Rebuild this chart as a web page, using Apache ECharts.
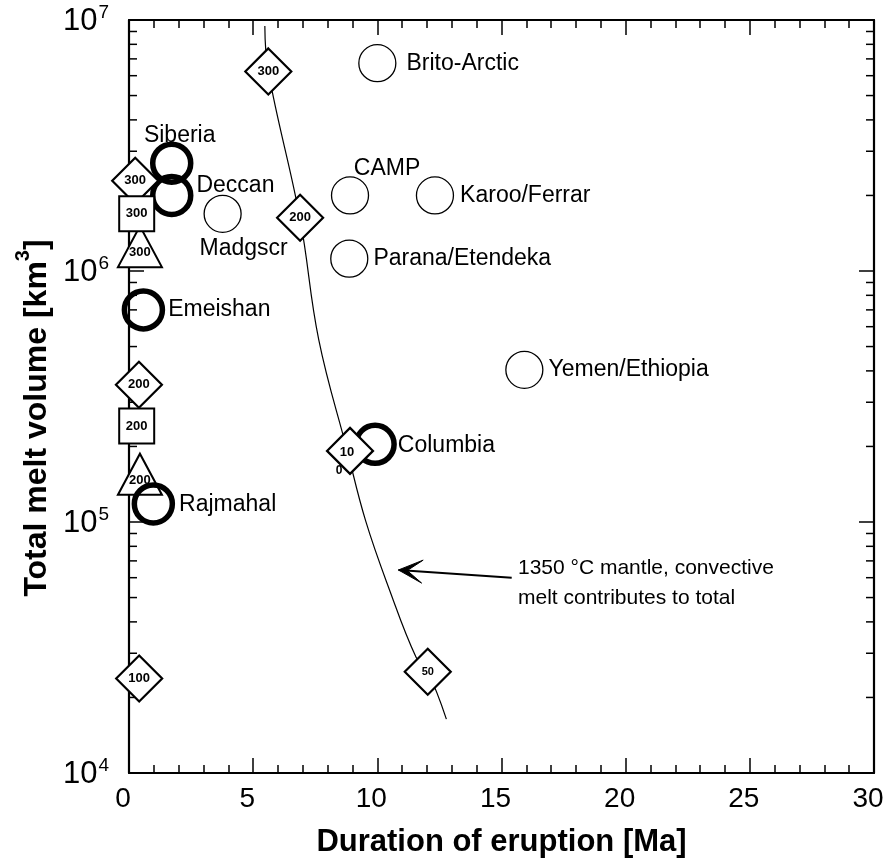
<!DOCTYPE html>
<html>
<head>
<meta charset="utf-8">
<script src="https://cdn.jsdelivr.net/npm/echarts@6/dist/echarts.min.js"></script>
<style>
html,body{margin:0;padding:0;background:#fff;}
#chart{width:889px;height:863px;}
</style>
</head>
<body>
<div id="chart"></div>
<script>
// ---------------- DATA ----------------
// Large igneous provinces, thick circles
var thickNames = ['Siberia', 'Deccan', 'Emeishan', 'Rajmahal', 'Columbia'];
var thickX = [1.72, 1.72, 0.58, 0.98, 9.91];
var thickY = [2.69e6, 2.0e6, 7.0e5, 1.18e5, 2.04e5];

// Large igneous provinces, thin circles
var thinNames = ['Brito-Arctic', 'CAMP', 'Karoo/Ferrar', 'Parana/Etendeka', 'Madgscr', 'Yemen/Ethiopia'];
var thinX = [10.0, 8.9, 12.32, 8.87, 3.77, 15.92];
var thinY = [6.73e6, 2.0e6, 2.0e6, 1.12e6, 1.69e6, 4.04e5];

// Model results (diamonds)
var diamondX = [5.61, 6.89, 8.9, 12.03, 0.25, 0.40, 0.41];
var diamondY = [6.24e6, 1.63e6, 1.92e5, 2.53e4, 2.29e6, 3.52e5, 2.38e4];
var diamondLbl = ['300', '200', '100', '50', '300', '200', '100'];

// Model results (squares)
var squareX = [0.31, 0.31];
var squareY = [1.69e6, 2.41e5];
var squareLbl = ['300', '200'];

// Model results (triangles)
var triangleX = [0.44, 0.44];
var triangleY = [1.25e6, 1.55e5];
var triangleLbl = ['300', '200'];

// 1350 C mantle curve
var curveX = [5.47, 5.61, 6.89, 7.64, 8.79, 9.53, 10.48, 11.56, 12.03, 12.78];
var curveY = [9.47e6, 6.24e6, 1.61e6, 5.33e5, 1.92e5, 1.01e5, 5.40e4, 2.89e4, 2.53e4, 1.64e4];

// Arrow (data coords): tail -> tip
var arrowX = [15.41, 10.85];
var arrowY = [6.0e4, 6.44e4];

// Axis ticks
var xTicks = [0, 5, 10, 15, 20, 25, 30];
var yTickValues = [1e4, 1e5, 1e6, 1e7];
var yTickExps = ['4', '5', '6', '7'];
var yMinorTicks = [2e4, 3e4, 4e4, 5e4, 6e4, 7e4, 8e4, 9e4,
                   2e5, 3e5, 4e5, 5e5, 6e5, 7e5, 8e5, 9e5,
                   2e6, 3e6, 4e6, 5e6, 6e6, 7e6, 8e6, 9e6];

var annotationLines = ['1350 °C mantle, convective', 'melt contributes to total'];

// ---------------- STYLE ----------------
var FONT = 'Liberation Sans, Arial, Helvetica, sans-serif';

var thickLabelCfg = {
  'Siberia': {position: 'top', distance: 2, offset: [8, 8]},
  'Deccan': {position: 'right', distance: 3, offset: [0, -10]},
  'Emeishan': {position: 'right', distance: 3, offset: [0, 0]},
  'Rajmahal': {position: 'right', distance: 4, offset: [0, 1]},
  'Columbia': {position: 'right', distance: 1, offset: [0, 1]}
};
var thinLabelCfg = {
  'Brito-Arctic': {position: 'right', distance: 10, offset: [0, 0]},
  'CAMP': {position: 'top', distance: 0, offset: [37, 4]},
  'Karoo/Ferrar': {position: 'right', distance: 6, offset: [0, 0]},
  'Parana/Etendeka': {position: 'right', distance: 5, offset: [0, 0]},
  'Madgscr': {position: 'bottom', distance: 3, offset: [21, 1]},
  'Yemen/Ethiopia': {position: 'right', distance: 5, offset: [0, 0]}
};

var chart = echarts.init(document.getElementById('chart'), null, {renderer: 'canvas'});

var baseAxisLine = {show: true, onZero: false, lineStyle: {color: '#000', width: 2.2}};

var option = {
  backgroundColor: '#ffffff',
  animation: false,
  grid: {left: 129, right: 15, top: 20, bottom: 86, containLabel: false},
  xAxis: [{
    type: 'value', min: 0, max: 30, interval: 5, position: 'bottom',
    axisLine: baseAxisLine,
    axisTick: {show: true, inside: true, length: 15, lineStyle: {color: '#000', width: 1.5}},
    minorTick: {show: true, splitNumber: 5, length: 8, lineStyle: {color: '#000', width: 1.5}},
    splitLine: {show: false},
    axisLabel: {
      show: true, margin: 12, color: '#000', fontSize: 28, fontFamily: FONT,
      padding: [0, 12, 0, 0],
      formatter: function (v) { var i = xTicks.indexOf(v); return i >= 0 ? String(xTicks[i]) : ''; }
    },
    name: 'Duration of eruption [Ma]', nameLocation: 'middle', nameGap: 54,
    nameTextStyle: {color: '#000', fontSize: 31, fontWeight: 'bold', fontFamily: FONT}
  }, {
    type: 'value', min: 0, max: 30, interval: 5, position: 'top',
    axisLine: baseAxisLine,
    axisTick: {show: true, inside: true, length: 15, lineStyle: {color: '#000', width: 1.5}},
    minorTick: {show: true, splitNumber: 5, length: 8, lineStyle: {color: '#000', width: 1.5}},
    splitLine: {show: false}, axisLabel: {show: false}
  }],
  yAxis: [{
    type: 'log', logBase: 10, min: 1e4, max: 1e7, position: 'left',
    axisLine: baseAxisLine,
    axisTick: {show: true, inside: true, length: 15, lineStyle: {color: '#000', width: 1.5}},
    splitLine: {show: false},
    axisLabel: {
      show: true, margin: 20, color: '#000', fontFamily: FONT,
      formatter: function (v) {
        for (var i = 0; i < yTickValues.length; i++) {
          if (Math.abs(Math.log10(v) - Math.log10(yTickValues[i])) < 1e-6) {
            return '{b|10}{s|' + yTickExps[i] + '}';
          }
        }
        return '';
      },
      rich: {
        b: {fontSize: 31, fontFamily: FONT, color: '#000', lineHeight: 34, verticalAlign: 'bottom'},
        s: {fontSize: 19, fontFamily: FONT, color: '#000', lineHeight: 34, verticalAlign: 'top', padding: [0, 0, 0, 1]}
      }
    }
  }, {
    type: 'log', logBase: 10, min: 1e4, max: 1e7, position: 'right',
    axisLine: baseAxisLine,
    axisTick: {show: true, inside: true, length: 15, lineStyle: {color: '#000', width: 1.5}},
    splitLine: {show: false}, axisLabel: {show: false}
  }],
  graphic: [{
    type: 'text', x: 33, y: 418, rotation: Math.PI / 2,
    style: {
      text: '{t|Total melt volume [km}{s|3}{t|]}',
      align: 'center', verticalAlign: 'middle',
      rich: {
        t: {fontSize: 32, fontWeight: 'bold', fontFamily: FONT, fill: '#000', lineHeight: 40, verticalAlign: 'bottom'},
        s: {fontSize: 20, fontWeight: 'bold', fontFamily: FONT, fill: '#000', lineHeight: 40, verticalAlign: 'top'}
      }
    }
  }, {
    type: 'text', x: 518, y: 568,
    style: {text: annotationLines[0], fontSize: 21, fontFamily: FONT, fill: '#000', align: 'left', verticalAlign: 'middle'}
  }, {
    type: 'text', x: 518, y: 598,
    style: {text: annotationLines[1], fontSize: 21, fontFamily: FONT, fill: '#000', align: 'left', verticalAlign: 'middle'}
  }],
  series: [
    // minor log ticks for y axes
    {
      type: 'custom', xAxisIndex: 0, yAxisIndex: 0, silent: true, clip: false, z: 1,
      data: yMinorTicks.map(function (v) { return [0, v]; }),
      renderItem: function (params, api) {
        var v = api.value(1);
        var l = api.coord([0, v]);
        var r = api.coord([30, v]);
        return {
          type: 'group',
          children: [
            {type: 'line', shape: {x1: l[0], y1: l[1], x2: l[0] + 8, y2: l[1]}, style: {stroke: '#000', lineWidth: 1.5}},
            {type: 'line', shape: {x1: r[0] - 8, y1: r[1], x2: r[0], y2: r[1]}, style: {stroke: '#000', lineWidth: 1.5}}
          ]
        };
      }
    },
    // model curve
    {
      type: 'line', name: 'curve', smooth: 0.4, showSymbol: false, symbol: 'none', z: 1,
      lineStyle: {color: '#000', width: 1.2},
      data: curveX.map(function (x, i) { return [x, curveY[i]]; }),
      markLine: {
        silent: true, symbol: ['none', 'none'],
        lineStyle: {color: '#000', width: 2, type: 'solid'},
        label: {show: false},
        data: [[{coord: [arrowX[0], arrowY[0]]}, {coord: [arrowX[1], arrowY[1]]}]]
      }
    },
    // arrow head drawn from arrow data
    {
      type: 'custom', silent: true, clip: false, z: 2,
      data: [[arrowX[0], arrowY[0], arrowX[1], arrowY[1]]],
      renderItem: function (params, api) {
        var t = api.coord([api.value(0), api.value(1)]);
        var h = api.coord([api.value(2), api.value(3)]);
        var dx = t[0] - h[0], dy = t[1] - h[1];
        var len = Math.sqrt(dx * dx + dy * dy); dx /= len; dy /= len;
        var px = -dy, py = dx;
        var L = 24, W = 11.5, N = 16;
        return {
          type: 'polygon',
          shape: {points: [
            [h[0], h[1]],
            [h[0] + dx * L + px * W, h[1] + dy * L + py * W],
            [h[0] + dx * N * 0.55, h[1] + dy * N * 0.55],
            [h[0] + dx * L - px * W, h[1] + dy * L - py * W]
          ]},
          style: {fill: '#000', stroke: '#000', lineWidth: 1}
        };
      }
    },
    // triangles
    {
      type: 'scatter', name: 'triangles', symbol: 'triangle', symbolSize: [44, 41], z: 2,
      itemStyle: {color: '#fff', borderColor: '#000', borderWidth: 2, opacity: 1},
      emphasis: {disabled: true},
      label: {show: true, position: 'inside', offset: [0, 6], color: '#000', fontSize: 13, fontWeight: 'bold', fontFamily: FONT,
        formatter: function (p) { return triangleLbl[p.dataIndex]; }},
      data: triangleX.map(function (x, i) { return [x, triangleY[i]]; })
    },
    // thin circles
    {
      type: 'scatter', name: 'thin', symbol: 'circle', symbolSize: 37, z: 3,
      itemStyle: {color: '#fff', borderColor: '#000', borderWidth: 1.3, opacity: 1},
      emphasis: {disabled: true},
      label: {show: true, color: '#000', fontSize: 23, fontFamily: FONT},
      data: thinX.map(function (x, i) {
        var c = thinLabelCfg[thinNames[i]];
        return {value: [x, thinY[i]], name: thinNames[i],
          label: {position: c.position, distance: c.distance, offset: c.offset, formatter: thinNames[i]}};
      })
    },
    // thick circles
    {
      type: 'scatter', name: 'thick', symbol: 'circle', symbolSize: 38, z: 4,
      itemStyle: {color: 'rgba(255,255,255,0)', borderColor: '#000', borderWidth: 5.5, opacity: 1},
      emphasis: {disabled: true},
      label: {show: true, color: '#000', fontSize: 23, fontFamily: FONT},
      data: thickX.map(function (x, i) {
        var c = thickLabelCfg[thickNames[i]];
        return {value: [x, thickY[i]], name: thickNames[i],
          label: {position: c.position, distance: c.distance, offset: c.offset, formatter: thickNames[i]}};
      })
    },
    // diamonds
    {
      type: 'scatter', name: 'diamonds', symbol: 'diamond', symbolSize: 46, z: 5,
      itemStyle: {color: '#fff', borderColor: '#000', borderWidth: 2.2, opacity: 1},
      emphasis: {disabled: true},
      label: {show: true, position: 'inside', color: '#000', fontSize: 13, fontWeight: 'bold', fontFamily: FONT},
      data: diamondX.map(function (x, i) {
        var item = {value: [x, diamondY[i]]};
        if (i === 2) {
          item.label = {formatter: '{a|10}\n{b|0}', offset: [-3, 11],
            rich: {a: {fontSize: 13, fontWeight: 'bold', fontFamily: FONT, lineHeight: 18, color: '#000'},
                   b: {fontSize: 12, fontWeight: 'bold', fontFamily: FONT, lineHeight: 18, color: '#000', padding: [0, 16, 0, 0]}}};
        } else if (diamondLbl[i] === '50') {
          item.label = {formatter: diamondLbl[i], fontSize: 11};
        } else {
          item.label = {formatter: diamondLbl[i]};
        }
        return item;
      })
    },
    // squares
    {
      type: 'scatter', name: 'squares', symbol: 'rect', symbolSize: 35, z: 6,
      itemStyle: {color: '#fff', borderColor: '#000', borderWidth: 2, opacity: 1},
      emphasis: {disabled: true},
      label: {show: true, position: 'inside', color: '#000', fontSize: 13, fontWeight: 'bold', fontFamily: FONT,
        formatter: function (p) { return squareLbl[p.dataIndex]; }},
      data: squareX.map(function (x, i) { return [x, squareY[i]]; })
    }
  ]
};
chart.setOption(option);
</script>
</body>
</html>
